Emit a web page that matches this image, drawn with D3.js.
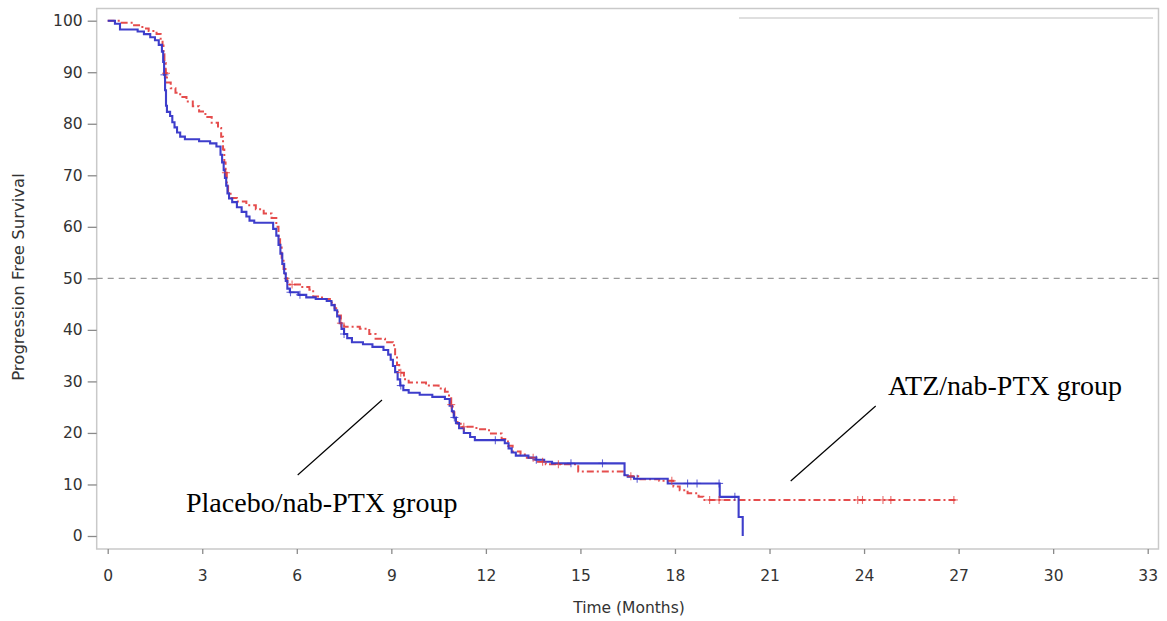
<!DOCTYPE html>
<html>
<head>
<meta charset="utf-8">
<script src="https://cdn.jsdelivr.net/npm/d3@7"></script>
<style>
  html, body { margin: 0; padding: 0; background: #ffffff; }
  svg { display: block; }
</style>
</head>
<body>
<svg id="chart" width="1167" height="621"></svg>
<script>
// ---------------- DATA ----------------
const xTicks = [0, 3, 6, 9, 12, 15, 18, 21, 24, 27, 30, 33];
const yTicks = [0, 10, 20, 30, 40, 50, 60, 70, 80, 90, 100];

// Placebo/nab-PTX group (blue, solid) : step-after KM estimate
const placeboTime = [0, 0.23, 0.39, 0.95, 1.15, 1.35, 1.5, 1.62, 1.72, 1.76, 1.79, 1.82, 1.85, 1.88, 1.98, 2.05, 2.12, 2.2, 2.3, 2.45, 2.9, 3.25, 3.45, 3.58, 3.63, 3.68, 3.72, 3.76, 3.8, 3.85, 3.95, 4.1, 4.25, 4.4, 4.5, 4.65, 5.25, 5.35, 5.42, 5.48, 5.54, 5.6, 5.65, 5.7, 5.78, 6.05, 6.3, 6.6, 6.95, 7.1, 7.2, 7.28, 7.36, 7.42, 7.5, 7.6, 7.75, 8.1, 8.4, 8.75, 8.9, 8.98, 9.05, 9.12, 9.2, 9.28, 9.38, 9.55, 9.9, 10.3, 10.7, 10.85, 10.92, 10.98, 11.05, 11.15, 11.3, 11.5, 11.65, 12.6, 12.72, 12.82, 12.95, 13.35, 13.6, 13.85, 14.1, 16.4, 16.5, 16.7, 17.77, 19.42, 20.02, 20.15];
const placeboSurv = [100, 99.4, 98.3, 97.9, 97.4, 96.8, 96.2, 95.3, 94.0, 92.0, 89.5, 86.5, 83.5, 82.3, 81.5, 80.3, 79.3, 78.3, 77.5, 77.0, 76.6, 76.2, 75.6, 74.0, 72.5, 71.0, 69.5, 68.0, 66.5, 65.5, 64.8, 63.8, 62.9, 62.0, 61.2, 60.8, 59.6, 58.3, 56.5, 54.8, 52.8, 51.0, 49.5, 48.0, 47.3, 46.8, 46.3, 46.0, 45.6, 44.8, 43.8, 42.6, 41.3, 40.2, 39.2, 38.4, 37.6, 37.2, 36.7, 36.1, 35.2, 34.2, 33.0, 31.8, 30.4, 29.2, 28.3, 27.8, 27.4, 27.0, 26.6, 25.3, 24.2, 23.0, 21.9, 20.9, 20.0, 19.2, 18.6, 18.0, 17.0, 16.2, 15.6, 15.2, 14.8, 14.4, 14.1, 11.8, 11.5, 11.1, 10.2, 7.6, 3.7, 0];
const placeboCensor = [1.8, 5.8, 6.1, 7.5, 9.3, 11.0, 12.3, 13.6, 14.7, 15.7, 16.8, 18.4, 18.7, 19.4, 19.9];

// ATZ/nab-PTX group (red, dash-dot)
const atzTime = [0, 0.35, 0.8, 1.1, 1.3, 1.55, 1.68, 1.74, 1.77, 1.8, 1.84, 1.88, 2.0, 2.15, 2.3, 2.5, 2.7, 2.9, 3.1, 3.3, 3.5, 3.6, 3.66, 3.7, 3.74, 3.78, 3.82, 3.9, 4.1, 4.4, 4.7, 4.95, 5.2, 5.35, 5.42, 5.47, 5.52, 5.58, 5.64, 5.7, 6.1, 6.4, 6.52, 6.8, 7.05, 7.2, 7.3, 7.4, 7.5, 8.0, 8.3, 8.5, 8.8, 9.05, 9.12, 9.18, 9.25, 9.4, 9.55, 10.1, 10.5, 10.7, 10.83, 10.9, 10.95, 11.0, 11.1, 11.25, 11.7, 12.1, 12.5, 12.7, 12.85, 13.1, 13.3, 13.55, 13.9, 14.93, 16.4, 16.9, 17.5, 17.95, 18.15, 18.4, 18.75, 18.9, 26.9];
const atzSurv = [100, 99.6, 99.1, 98.5, 98.0, 97.4, 96.5, 95.2, 93.5, 91.8, 89.8, 88.0, 86.9, 86.0, 85.2, 84.3, 83.4, 82.4, 81.3, 80.2, 79.2, 77.5, 75.0, 72.5, 70.5, 68.5, 66.7, 65.6, 64.9, 64.2, 63.4, 62.6, 61.7, 60.0, 58.0, 56.0, 53.8, 51.8, 50.0, 48.8, 48.3, 47.8, 46.5, 46.0, 45.3, 44.2, 42.8, 41.3, 40.6, 40.2, 39.2, 38.3, 37.6, 37.0, 35.0, 33.2, 31.7, 30.4, 29.8, 29.2, 28.6, 28.0, 27.0, 25.5, 24.0, 22.8, 21.8, 21.2, 20.7, 19.9, 18.8, 17.5, 16.4, 15.8, 15.2, 14.4, 13.9, 12.5, 11.6, 11.0, 10.7, 9.6, 8.9, 8.3, 7.6, 7.0, 7.0];
const atzCensor = [1.85, 3.75, 5.85, 7.4, 9.3, 10.9, 11.3, 13.5, 13.8, 14.3, 16.6, 17.9, 19.1, 19.4, 23.8, 23.95, 24.6, 24.85, 26.85];

const xLabel = "Time (Months)";
const yLabel = "Progression Free Survival";
const placeboLabel = "Placebo/nab-PTX group";
const atzLabel = "ATZ/nab-PTX group";

// ---------------- DRAW ----------------
const svg = d3.select("#chart");
svg.append("rect").attr("width", 1167).attr("height", 621).attr("fill", "#fff");

const frame = { left: 96.7, top: 8.5, right: 1158.5, bottom: 549 };
const x = d3.scaleLinear().domain([0, 33]).range([107.7, 1147.7]);
const y = d3.scaleLinear().domain([0, 100]).range([536, 20.7]);

// frame
svg.append("rect")
  .attr("x", frame.left).attr("y", frame.top)
  .attr("width", frame.right - frame.left).attr("height", frame.bottom - frame.top)
  .attr("fill", "none").attr("stroke", "#c9c9c9").attr("stroke-width", 1.5);

// faint legend remnant line at top-right
svg.append("line")
  .attr("x1", 739).attr("x2", 1153).attr("y1", 18).attr("y2", 18)
  .attr("stroke", "#d4d4d4").attr("stroke-width", 1.5);

// axes
const font = "'DejaVu Sans', Verdana, sans-serif";
const xAxis = svg.append("g")
  .attr("transform", `translate(0,${frame.bottom})`)
  .call(d3.axisBottom(x).tickValues(xTicks).tickSize(5).tickPadding(16).tickFormat(d3.format("d")));
const yAxis = svg.append("g")
  .attr("transform", `translate(${frame.left},0)`)
  .call(d3.axisLeft(y).tickValues(yTicks).tickSize(9).tickPadding(5).tickFormat(d3.format("d")));
[xAxis, yAxis].forEach(g => {
  g.select(".domain").remove();
  g.selectAll(".tick line").attr("stroke", "#8a8a8a").attr("stroke-width", 1.3);
  g.selectAll(".tick text")
    .attr("fill", "#333")
    .style("font-family", font)
    .style("font-size", "15.5px");
});

// axis titles
svg.append("text")
  .attr("x", 629).attr("y", 613)
  .attr("text-anchor", "middle")
  .attr("fill", "#333")
  .style("font-family", font).style("font-size", "15.5px")
  .text(xLabel);
svg.append("text")
  .attr("transform", "translate(24,277) rotate(-90)")
  .attr("text-anchor", "middle")
  .attr("fill", "#333")
  .style("font-family", font).style("font-size", "16.5px")
  .text(yLabel);

// 50% reference line
svg.append("line")
  .attr("x1", frame.left).attr("x2", frame.right)
  .attr("y1", y(50)).attr("y2", y(50))
  .attr("stroke", "#9a9a9a").attr("stroke-width", 1.3)
  .attr("stroke-dasharray", "6,5");

// curves
const line = d3.line()
  .x(d => x(d[0])).y(d => y(d[1]))
  .curve(d3.curveStepAfter);

const placebo = placeboTime.map((t, i) => [t, placeboSurv[i]]);
const atz = atzTime.map((t, i) => [t, atzSurv[i]]);

function survAt(times, surv, t) {
  let v = surv[0];
  for (let i = 0; i < times.length; i++) { if (times[i] <= t) v = surv[i]; }
  return v;
}

const blue = "#3434c8";
const red = "#e23a3a";

svg.append("path").datum(atz)
  .attr("d", line)
  .attr("fill", "none")
  .attr("stroke", red).attr("stroke-width", 2)
  .attr("stroke-dasharray", "7,3,2,3")
  .attr("opacity", 0.9);

svg.append("path").datum(placebo)
  .attr("d", line)
  .attr("fill", "none")
  .attr("stroke", blue).attr("stroke-width", 2.1)
  .attr("opacity", 0.95);

// censor marks
function drawCensor(times, survTimes, surv, color) {
  const s = 4;
  const g = svg.append("g").attr("stroke", color).attr("stroke-width", 1.1).attr("opacity", 0.75);
  times.forEach(t => {
    const cx = x(t), cy = y(survAt(survTimes, surv, t));
    g.append("line").attr("x1", cx - s).attr("x2", cx + s).attr("y1", cy).attr("y2", cy);
    g.append("line").attr("x1", cx).attr("x2", cx).attr("y1", cy - s).attr("y2", cy + s);
  });
}
drawCensor(atzCensor, atzTime, atzSurv, red);
drawCensor(placeboCensor, placeboTime, placeboSurv, blue);

// annotations
const serif = "'Liberation Serif', 'Times New Roman', serif";
svg.append("line")
  .attr("x1", 297.7).attr("y1", 475).attr("x2", 382).attr("y2", 400)
  .attr("stroke", "#000").attr("stroke-width", 1.2);
svg.append("line")
  .attr("x1", 790.7).attr("y1", 481).attr("x2", 875.7).attr("y2", 406)
  .attr("stroke", "#000").attr("stroke-width", 1.2);
svg.append("text")
  .attr("x", 186).attr("y", 512)
  .attr("fill", "#000")
  .style("font-family", serif).style("font-size", "28px")
  .text(placeboLabel);
svg.append("text")
  .attr("x", 888).attr("y", 395)
  .attr("fill", "#000")
  .style("font-family", serif).style("font-size", "28px")
  .text(atzLabel);
</script>
</body>
</html>
